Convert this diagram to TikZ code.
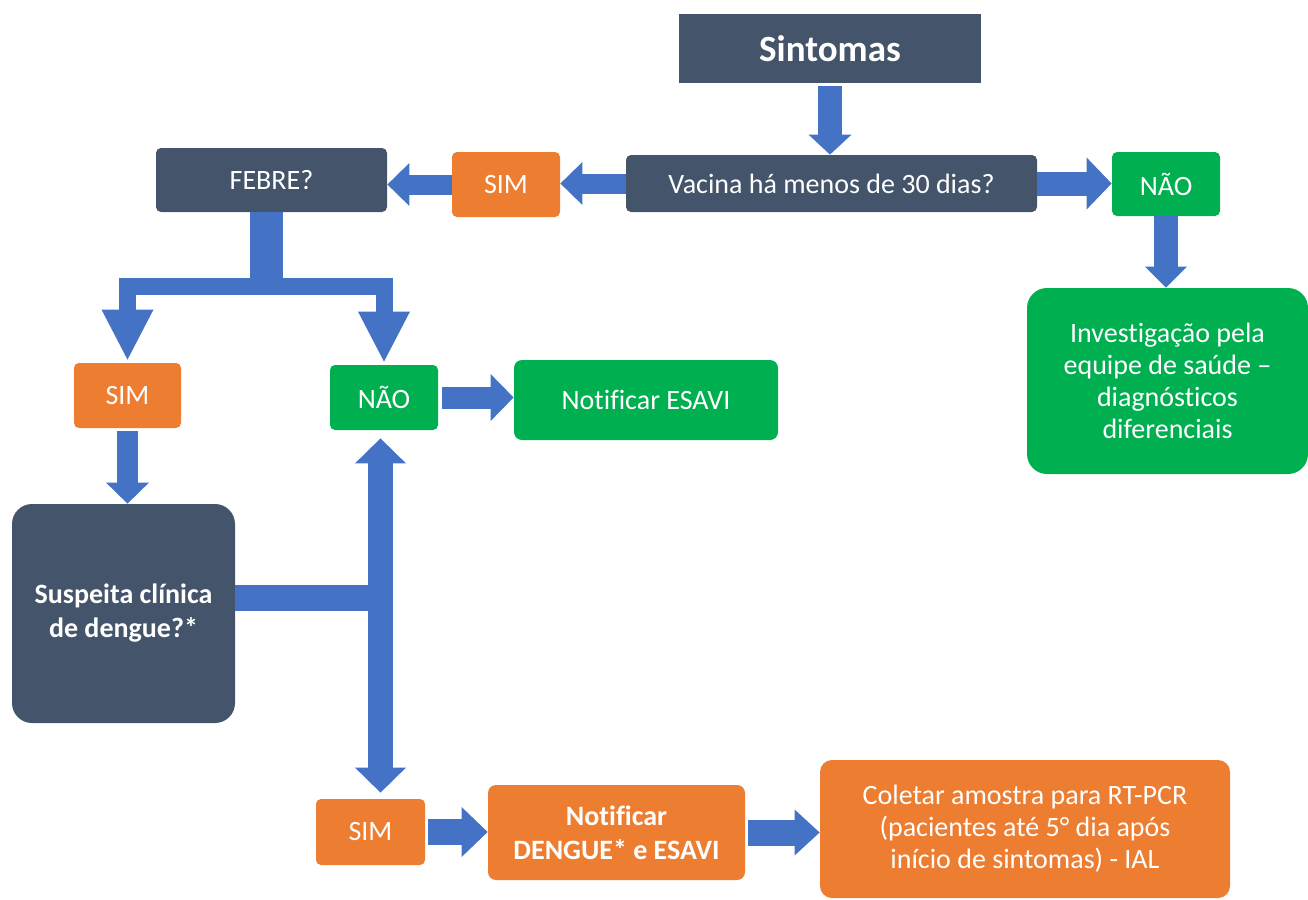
\documentclass[tikz,border=0pt]{standalone}
\usepackage{fontspec}
\setmainfont{Carlito}[Ligatures=NoCommon]
\usetikzlibrary{arrows.meta, calc}

\definecolor{slate}{HTML}{44546A}
\definecolor{orng}{HTML}{ED7D31}
\definecolor{grn}{HTML}{00B050}
\definecolor{arrowblue}{HTML}{4472C4}

\begin{document}
\begin{tikzpicture}[x=0.5pt, y=-0.5pt,
        box/.style={fill=#1, text=white, rounded corners=2.5pt, inner sep=0pt,
            align=center, font=\fontsize{14}{16}\selectfont},
        fat/.style n args={3}{draw=arrowblue, line width=#1,
            -{Triangle[width=#2, length=#3, line width=0pt, color=arrowblue]}},
        fatboth/.style n args={3}{draw=arrowblue, line width=#1,
            {Triangle[width=#2, length=#3, line width=0pt, color=arrowblue]}-{Triangle[width=#2, length=#3, line width=0pt, color=arrowblue]}},
        bar/.style={draw=arrowblue, line width=#1},
    ]
    \useasboundingbox (0,0) rectangle (1308,900);

    \node[box=slate, rounded corners=0pt, minimum width=151pt, minimum height=34.5pt,
        font=\fontsize{18.5}{22}\selectfont\bfseries] (sint) at (830,48.5) {Sintomas};
    \node[box=slate, minimum width=205.5pt, minimum height=28.5pt] (vac) at (831.5,183.5) {Vacina há menos de 30 dias?};
    \node[box=orng, minimum width=54pt, minimum height=32.5pt] (simT) at (506,184.5) {SIM};
    \node[box=slate, minimum width=115.5pt, minimum height=32pt] (febre) at (271.5,180) {FEBRE?};
    \node[box=grn, minimum width=54pt, minimum height=32pt] (naoT) at (1166,184) {NÃO};
    \node[box=grn, rounded corners=10pt, minimum width=140.5pt, minimum height=93pt] (invest) at (1167.5,381)
        {Investigação pela\\equipe de saúde –\\diagnósticos\\diferenciais};
    \node[box=orng, minimum width=53.5pt, minimum height=32.5pt] (simL) at (127.5,395.5) {SIM};
    \node[box=grn, minimum width=54pt, minimum height=32.5pt] (naoM) at (384,397.5) {NÃO};
    \node[box=grn, rounded corners=4pt, minimum width=132pt, minimum height=40pt] (esavi) at (646,400) {Notificar ESAVI};
    \node[box=slate, rounded corners=10pt, minimum width=111.5pt, minimum height=109.5pt,
        font=\fontsize{14}{17}\selectfont\bfseries] (susp) at (123.5,613.5) {Suspeita clínica\\de dengue?*};
    \node[box=orng, minimum width=54.5pt, minimum height=33pt] (simB) at (370.5,832) {SIM};
    \node[box=orng, rounded corners=4pt, minimum width=128.5pt, minimum height=47.5pt,
        font=\fontsize{14}{17}\selectfont\bfseries] (dengue) at (616.5,832.5) {Notificar\\DENGUE* e ESAVI};
    \node[box=orng, rounded corners=6pt, minimum width=205pt, minimum height=69pt] (coletar) at (1025,829)
        {Coletar amostra para RT-PCR\\(pacientes até 5° dia após\\início de sintomas) - IAL};

    \coordinate (fork) at (266,286);
    \coordinate (spine) at (380.5,598);

    \draw[fat={12pt}{21.5pt}{10pt}, shorten <=1.5pt] (sint.south) -- (sint.south |- vac.north);
    \draw[fat={10pt}{21.5pt}{11pt}] (vac.west) -- (vac.west -| simT.east);
    \draw[fat={10pt}{21.5pt}{11pt}] (simT.west) -- (simT.west -| febre.east);
    \draw[fat={12pt}{26pt}{12.5pt}] (vac.east) -- (vac.east -| naoT.west);
    \draw[fat={12pt}{21pt}{10.5pt}] (naoT.south) -- (naoT.south |- invest.north);

    \draw[bar=16.5pt] (febre.south -| fork) -- ([yshift=-4pt]fork);
    \draw[fat={8.5pt}{26pt}{25pt}, shorten >=1.5pt] (fork) -| (simL.north);
    \draw[fat={8.5pt}{26pt}{25pt}, shorten >=1.5pt] (fork) -| (naoM.north);

    \draw[fat={10.5pt}{21.5pt}{10.5pt}, shorten <=1.5pt] (simL.south) -- (simL.south |- susp.north);
    \draw[fat={11pt}{23.5pt}{11.5pt}, shorten <=2pt] (naoM.east) -- (naoM.east -| esavi.west);

    \draw[bar=13pt] (susp.east |- spine) -- (spine);
    \draw[fatboth={12.5pt}{25.5pt}{12.5pt}, shorten <=4pt, shorten >=3pt] (naoM.south -| spine) -- (simB.north -| spine);

    \draw[fat={13pt}{25pt}{13pt}, shorten <=1.5pt] (simB.east) -- (simB.east -| dengue.west);
    \draw[fat={13pt}{23pt}{12.5pt}, shorten <=1.5pt] (dengue.east) -- (dengue.east -| coletar.west);
\end{tikzpicture}
\end{document}
